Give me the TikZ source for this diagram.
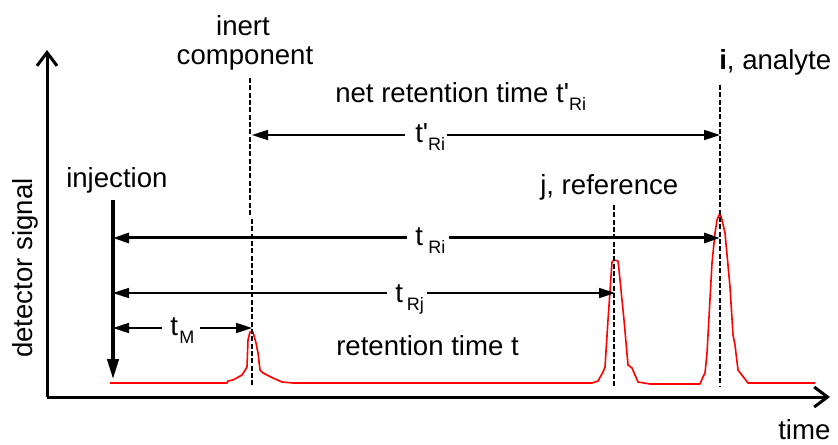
\documentclass[tikz,border=0pt]{standalone}
\usepackage{fontspec}
\setmainfont{Liberation Sans}
\usetikzlibrary{arrows.meta}
\newcommand\lsub[1]{\raisebox{-6pt}{\fontsize{13.5}{14}\selectfont #1}}
\begin{document}
\begin{tikzpicture}[x=0.75pt,y=-0.75pt,
  font=\fontsize{20.7}{24}\selectfont,
  txt/.style={inner sep=0pt, anchor=base west},
  axisline/.style={line width=2.25pt, -{Straight Barb[length=10pt,width=15pt]}},
  thinarrow/.style={line width=1.25pt, -{Triangle[length=12pt,width=7.5pt]}},
  thickarrow/.style={line width=2.25pt, -{Triangle[length=12pt,width=7.5pt]}},
  injarrow/.style={line width=2.4pt, -{Triangle[length=15pt,width=8.5pt]}},
  markline/.style={line width=1.4pt, dash pattern=on 3.7pt off 1.8pt},
  signal/.style={red, line width=1.2pt, line join=round}]
\useasboundingbox (0,0) rectangle (838,445);

% coordinates
\coordinate (O) at (47,397);
\coordinate (ytop) at (47,50);
\coordinate (xend) at (830,397);
\coordinate (injtop) at (113,200);
\coordinate (injbot) at (113,379);
\coordinate (inTop) at (250,78);
\coordinate (inM1) at (250,216);
\coordinate (inM2) at (252,219);
\coordinate (inBot) at (252,386);
\coordinate (jTop) at (614,205);
\coordinate (jBot) at (614,386);
\coordinate (iTop) at (720,85);
\coordinate (iBot) at (720,386);

% signal
\draw[signal] (110,383) -- (227,383) -- (228,381) -- (233,380) -- (242,375) -- (247,367)
  -- (248,340) -- (250,332) -- (253,332) -- (256,343) -- (258,353) -- (260,370)
  -- (263,373) -- (273,378) -- (282,382) -- (293,383)
  -- (592,383) -- (598,381) -- (603,372) -- (605,367) -- (608,320) -- (612,262)
  -- (614,260) -- (618,261) -- (619,270) -- (624,320) -- (628,365) -- (632,368)
  -- (638,382) -- (650,384) -- (700,384) -- (703,377) -- (705,373) -- (707,353)
  -- (712,263) -- (715,233) -- (717,220) -- (719,215) -- (721,216) -- (722,220)
  -- (725,233) -- (730,287) -- (733,335) -- (735,345) -- (738,370) -- (748,383)
  -- (815,383);

% marker lines
\draw[markline] (inTop) -- (inM1);
\draw[markline] (inM2) -- (inBot);
\draw[markline] (jTop) -- (jBot);
\draw[markline] (iTop) -- (iBot);

% axes
\draw[axisline] (O) -- (ytop);
\draw[axisline] (O) -- (xend);
\draw[injarrow] (injtop) -- (injbot);

% labels on arrows
\node[txt] (tpRi) at (415,143) {t\textquotesingle\lsub{Ri}};
\node[txt] (tRi) at (415,245) {t\hspace{4pt}\lsub{Ri}};
\node[txt] (tRj) at (395,302) {t\hspace{3pt}\lsub{Rj}};
\node[txt] (tM) at (170,335) {t\hspace{1pt}\lsub{M}};

% arrows
\coordinate (a1L) at (252,135); \coordinate (a1g1) at (405,135);
\coordinate (a1g2) at (447,135); \coordinate (a1R) at (720,135);
\draw[thinarrow] (a1g1) -- (a1L);
\draw[thinarrow] (a1g2) -- (a1R);

\coordinate (a2L) at (113,238); \coordinate (a2g1) at (407,238);
\coordinate (a2g2) at (449,238); \coordinate (a2R) at (720,238);
\draw[thickarrow] (a2g1) -- (a2L);
\draw[thickarrow] (a2g2) -- (a2R);

\coordinate (a3L) at (113,293); \coordinate (a3g1) at (387,293);
\coordinate (a3g2) at (427,293); \coordinate (a3R) at (615,293);
\draw[thinarrow] (a3g1) -- (a3L);
\draw[thinarrow] (a3g2) -- (a3R);

\coordinate (a4L) at (113,328); \coordinate (a4g1) at (162,328);
\coordinate (a4g2) at (200,328); \coordinate (a4R) at (252,328);
\draw[thinarrow] (a4g1) -- (a4L);
\draw[thinarrow] (a4g2) -- (a4R);

% texts
\node[inner sep=0pt, anchor=base] (inert) at (243,36) {inert};
\node[inner sep=0pt, anchor=base] (component) at (245,65) {component};
\node[txt] (net) at (335,103) {net retention time t\textquotesingle\lsub{Ri}};
\node[txt] (analyte) at (719,70) {\textbf{i}, analyte};
\node[txt] (reference) at (540,195) {j, reference};
\node[txt] (injection) at (66,188) {injection};
\node[txt] (rtime) at (336,355) {retention time t};
\node[txt] (time) at (778,439) {time};
\node[txt, rotate=90] (detector) at (32,358) {detector signal};
\end{tikzpicture}
\end{document}
